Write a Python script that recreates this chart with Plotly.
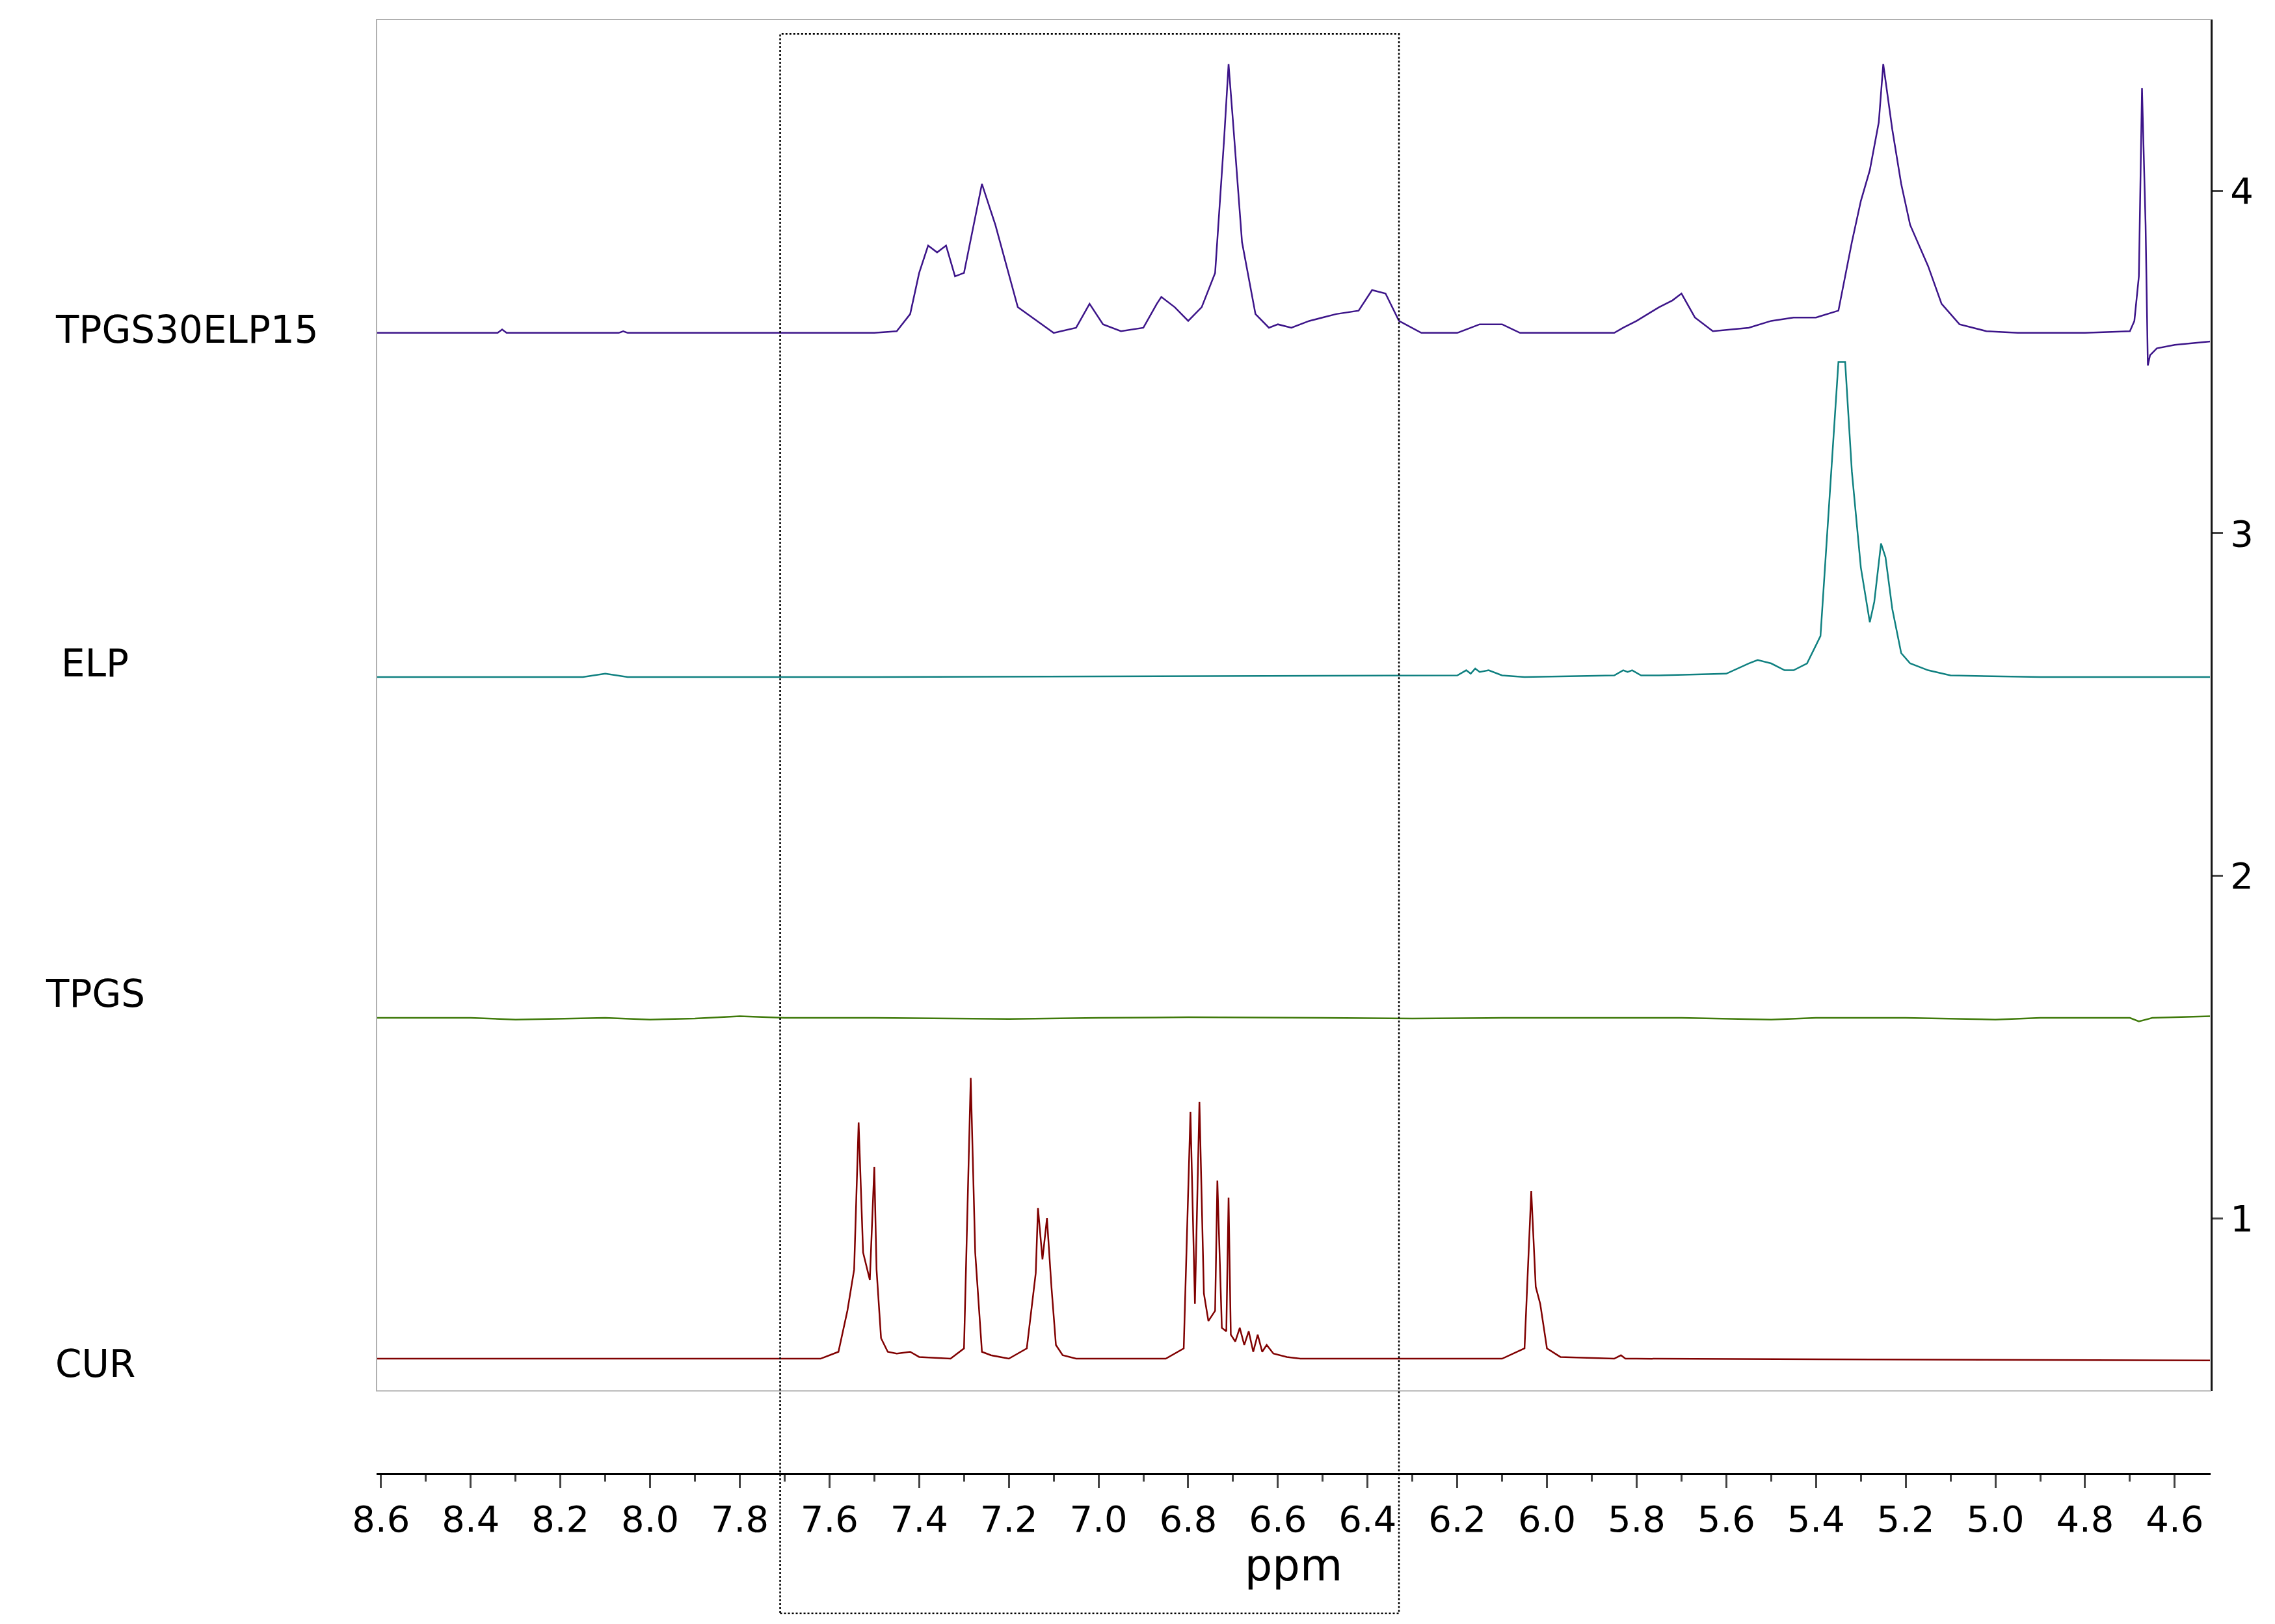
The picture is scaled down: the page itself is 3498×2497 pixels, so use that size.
import plotly.graph_objects as go

# ppm / intensity point lists
tpgs_elp_x = [8.62,8.34,8.33,8.32,8.07,8.06,8.05,7.50,7.45,7.42,7.40,7.38,7.36,7.34,7.32,7.30,7.28,7.26,7.23,7.18,7.10,7.05,7.02,6.99,6.95,6.90,6.87,6.86,6.83,6.80,6.77,6.74,6.72,6.71,6.70,6.68,6.65,6.62,6.60,6.57,6.53,6.47,6.42,6.39,6.36,6.33,6.28,6.20,6.15,6.10,6.06,6.00,5.85,5.83,5.80,5.75,5.72,5.70,5.67,5.63,5.55,5.50,5.45,5.40,5.35,5.32,5.30,5.28,5.26,5.25,5.23,5.21,5.19,5.15,5.12,5.08,5.02,4.95,4.80,4.70,4.69,4.68,4.673,4.665,4.66,4.655,4.64,4.60,4.52]
tpgs_elp_y = [3.585,3.585,3.595,3.585,3.585,3.59,3.585,3.585,3.59,3.64,3.76,3.84,3.82,3.84,3.75,3.76,3.89,4.02,3.90,3.66,3.585,3.60,3.67,3.61,3.59,3.60,3.67,3.69,3.66,3.62,3.66,3.76,4.15,4.37,4.20,3.85,3.64,3.60,3.61,3.60,3.62,3.64,3.65,3.71,3.70,3.62,3.585,3.585,3.61,3.61,3.585,3.585,3.585,3.60,3.62,3.66,3.68,3.70,3.63,3.59,3.60,3.62,3.63,3.63,3.65,3.85,3.97,4.06,4.20,4.37,4.18,4.02,3.90,3.78,3.67,3.61,3.59,3.585,3.585,3.59,3.62,3.75,4.30,3.90,3.49,3.52,3.54,3.55,3.56]

elp_x = [8.62,8.15,8.10,8.05,7.50,6.20,6.18,6.17,6.16,6.15,6.13,6.10,6.05,5.85,5.83,5.82,5.81,5.79,5.75,5.60,5.55,5.53,5.50,5.47,5.45,5.42,5.39,5.37,5.35,5.335,5.32,5.30,5.28,5.27,5.255,5.245,5.23,5.21,5.19,5.15,5.10,4.90,4.52]
elp_y = [2.58,2.58,2.59,2.58,2.58,2.585,2.60,2.59,2.605,2.595,2.60,2.585,2.58,2.585,2.60,2.595,2.60,2.585,2.585,2.59,2.62,2.63,2.62,2.60,2.60,2.62,2.70,3.10,3.50,3.50,3.18,2.90,2.74,2.80,2.97,2.93,2.78,2.65,2.62,2.60,2.585,2.58,2.58]

tpgs_x = [8.62,8.40,8.30,8.10,8.00,7.90,7.80,7.70,7.50,7.20,7.00,6.80,6.50,6.30,6.10,5.70,5.50,5.40,5.20,5.00,4.90,4.70,4.68,4.65,4.52]
tpgs_y = [1.585,1.585,1.58,1.585,1.58,1.583,1.59,1.585,1.585,1.582,1.585,1.587,1.585,1.583,1.585,1.585,1.58,1.585,1.585,1.58,1.585,1.585,1.575,1.585,1.59]

cur_x = [8.62,7.70,7.62,7.58,7.56,7.545,7.535,7.525,7.51,7.50,7.495,7.485,7.47,7.45,7.42,7.40,7.33,7.30,7.285,7.275,7.26,7.24,7.20,7.16,7.14,7.135,7.125,7.115,7.105,7.095,7.08,7.05,6.85,6.81,6.795,6.785,6.775,6.765,6.755,6.74,6.735,6.725,6.715,6.71,6.705,6.695,6.685,6.675,6.665,6.655,6.645,6.635,6.625,6.61,6.58,6.55,6.10,6.05,6.035,6.025,6.015,6.00,5.97,5.85,5.835,5.825,5.80,4.52]
cur_y = [0.59,0.59,0.59,0.61,0.73,0.85,1.28,0.90,0.82,1.15,0.85,0.65,0.61,0.605,0.61,0.595,0.59,0.62,1.41,0.90,0.61,0.60,0.59,0.62,0.84,1.03,0.88,1.00,0.80,0.63,0.60,0.59,0.59,0.62,1.31,0.75,1.34,0.78,0.70,0.73,1.11,0.68,0.67,1.06,0.66,0.64,0.68,0.63,0.67,0.61,0.66,0.61,0.63,0.605,0.595,0.59,0.59,0.62,1.08,0.80,0.75,0.62,0.595,0.59,0.60,0.59,0.59,0.585]

series_names = ["TPGS30ELP15", "ELP", "TPGS", "CUR"]
series_colors = ["#3c1489", "#0f8080", "#3f7a0a", "#800000"]
label_y = [3.595, 2.62, 1.655, 0.575]
label_x = [-0.1035, -0.1535, -0.1535, -0.1535]
xtick_vals = [8.6,8.4,8.2,8.0,7.8,7.6,7.4,7.2,7.0,6.8,6.6,6.4,6.2,6.0,5.8,5.6,5.4,5.2,5.0,4.8,4.6]
ytick_vals = [1, 2, 3, 4]

fig = go.Figure()
for xs, ys, c, n in zip([tpgs_elp_x, elp_x, tpgs_x, cur_x], [tpgs_elp_y, elp_y, tpgs_y, cur_y], series_colors, series_names):
    fig.add_trace(go.Scatter(x=xs, y=ys, mode="lines", line=dict(color=c, width=2.5), name=n, showlegend=False))

ydom0 = 0.057
fig.update_layout(
    width=3498, height=2497, plot_bgcolor="white", paper_bgcolor="white",
    margin=dict(l=571, r=107, t=22, b=239),
    font=dict(family="DejaVu Sans", size=56, color="black"),
    xaxis=dict(range=[8.61, 4.52], tickvals=xtick_vals, ticktext=[f"{v:.1f}" for v in xtick_vals],
               anchor="free", position=0,
               showgrid=False, zeroline=False, showline=True, linecolor="black", linewidth=3,
               ticks="outside", ticklen=20, tickwidth=3, minor=dict(ticks="outside", ticklen=10, dtick=0.1),
               title=dict(text="ppm", standoff=8), tickfont=dict(size=56)),
    yaxis=dict(domain=[ydom0, 1], range=[0.496, 4.5], side="right", tickvals=ytick_vals,
               showgrid=False, zeroline=False, showline=True, linecolor="black", linewidth=3,
               ticks="outside", ticklen=16, tickwidth=3, tickfont=dict(size=56)),
)
# plot box
fig.add_shape(type="rect", xref="paper", yref="paper", x0=0, x1=1, y0=ydom0, y1=1,
              line=dict(color="#b0b0b0", width=2))
# dashed highlight region
fig.add_shape(type="rect", xref="x", yref="paper", x0=7.71, x1=6.33, y0=-0.096, y1=0.99,
              line=dict(color="black", width=2.5, dash="dot"))
for n, yv, xv in zip(series_names, label_y, label_x):
    fig.add_annotation(x=xv, xref="paper", y=yv, yref="y", text=n, showarrow=False,
                       xanchor="center", font=dict(size=58, family="DejaVu Sans"))
fig.write_html("out.html")
